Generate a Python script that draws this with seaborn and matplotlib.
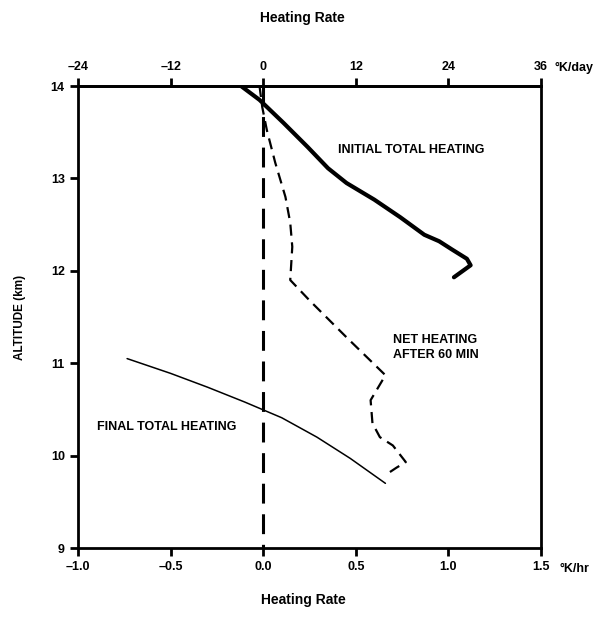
import numpy as np
import pandas as pd
import matplotlib
matplotlib.use('Agg')
import matplotlib.pyplot as plt
import seaborn as sns

# 读数: 加热率 (K/hr) 与高度 (km)
initial_rate = [-0.12, -0.02, 0.11, 0.24, 0.35, 0.45, 0.60, 0.74, 0.87, 0.95, 1.02, 1.10, 1.12, 1.03]
initial_alt = [14.0, 13.85, 13.60, 13.34, 13.11, 12.95, 12.77, 12.58, 12.39, 12.32, 12.23, 12.13, 12.06, 11.93]

net_rate = [-0.02, -0.005, 0.02, 0.065, 0.12, 0.146, 0.157, 0.146, 0.25, 0.45, 0.66, 0.58, 0.59, 0.63, 0.70, 0.77, 0.72, 0.66]
net_alt = [14.0, 13.77, 13.52, 13.17, 12.80, 12.52, 12.26, 11.90, 11.68, 11.28, 10.87, 10.60, 10.35, 10.20, 10.11, 9.93, 9.87, 9.79]

final_rate = [-0.735, -0.50, -0.30, -0.10, 0.10, 0.29, 0.47, 0.66]
final_alt = [11.05, 10.89, 10.74, 10.58, 10.41, 10.20, 9.97, 9.70]

zero_rate = [0.0, 0.0]
zero_alt = [14.0, 9.0]

xticks_hr = [-1.0, -0.5, 0.0, 0.5, 1.0, 1.5]
xticks_day = [-24, -12, 0, 12, 24, 36]
yticks = [9, 10, 11, 12, 13, 14]

sns.set_style('ticks')
plt.rcParams['font.family'] = ['Liberation Sans', 'DejaVu Sans']
plt.rcParams['font.weight'] = 'bold'
plt.rcParams['text.color'] = 'black'
plt.rcParams['xtick.color'] = 'black'
plt.rcParams['ytick.color'] = 'black'
plt.rcParams['axes.edgecolor'] = 'black'

fig = plt.figure(figsize=(6.11, 6.31), dpi=100)
ax = fig.add_axes([0.1277, 0.1315, 0.7577, 0.7322])

sns.lineplot(x=initial_rate, y=initial_alt, sort=False, estimator=None, color='black', linewidth=3.0, ax=ax)
l_net = sns.lineplot(x=net_rate, y=net_alt, sort=False, estimator=None, color='black', linewidth=1.6, ax=ax).lines[-1]
l_net.set_dashes((5, 3))
sns.lineplot(x=final_rate, y=final_alt, sort=False, estimator=None, color='black', linewidth=1.1, ax=ax)
l_zero = sns.lineplot(x=zero_rate, y=zero_alt, sort=False, estimator=None, color='black', linewidth=2.2, ax=ax).lines[-1]
l_zero.set_dashes((6.5, 3.5))

ax.set_xlim(-1.0, 1.5)
ax.set_ylim(9, 14)
ax.set_xticks(xticks_hr)
ax.set_xticklabels([f'{v:.1f}'.replace('-', '\u2013') for v in xticks_hr])
ax.set_yticks(yticks)
for s in ax.spines.values():
    s.set_linewidth(2.0)
ax.tick_params(width=2, length=6, labelsize=9, direction='out', colors='black')

top = ax.secondary_xaxis('top', functions=(lambda x: x * 24, lambda x: x / 24))
top.set_xticks(xticks_day)
top.set_xticklabels([str(v).replace('-', '\u2013') for v in xticks_day])
top.tick_params(width=2, length=6, labelsize=9, direction='out', colors='black')
top.spines['top'].set_linewidth(2.0)

ax.set_ylabel('ALTITUDE (km)', fontsize=8.5, fontweight='bold', labelpad=18, color='black')

fig.text(0.495, 0.972, 'Heating Rate', fontsize=10, fontweight='bold', ha='center', va='center')
fig.text(0.497, 0.049, 'Heating Rate', fontsize=10, fontweight='bold', ha='center', va='center')

ax.text(1.03, 1.04, '\u00b0K/day', transform=ax.transAxes, fontsize=9, fontweight='bold', ha='left', va='center')
ax.text(1.04, -0.045, '\u00b0K/hr', transform=ax.transAxes, fontsize=9, fontweight='bold', ha='left', va='center')

ax.text(0.80, 13.31, 'INITIAL TOTAL HEATING', fontsize=9, fontweight='bold', ha='center', va='center')
ax.text(0.93, 11.17, 'NET HEATING\nAFTER 60 MIN', fontsize=9, fontweight='bold', ha='center', va='center',
        multialignment='center', linespacing=1.3)
ax.text(-0.52, 10.31, 'FINAL TOTAL HEATING', fontsize=9, fontweight='bold', ha='center', va='center')

fig.savefig('out.png', dpi=100)
